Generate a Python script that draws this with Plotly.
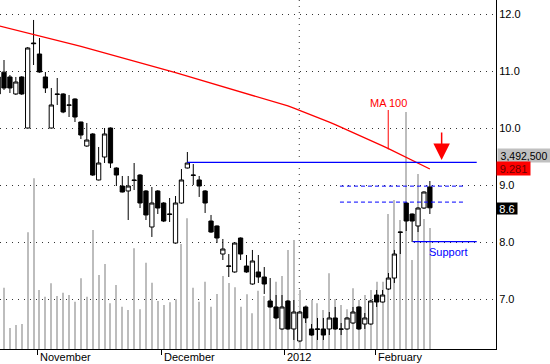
import plotly.graph_objects as go

# ---- data (index = trading day) ----
idx = list(range(74))

opens = [10.895, 10.98, 10.895, 10.597, 10.895, 10.0, 11.491, 11.298, 10.895, 10.0,
         10.597, 10.597, 10.404, 10.509, 10.105, 9.684, 9.895, 9.088, 9.491, 10.0,
         9.298, 8.982, 8.895, 9.088, 9.175, 8.895, 8.263, 8.895, 8.684, 8.491,
         7.982, 8.684, 9.298, 9.175, 9.088, 8.895, 8.368, 8.281, 7.789, 7.579,
         7.474, 8.07, 7.579, 7.263, 7.474, 7.386, 6.965, 6.86, 6.474, 6.965,
         6.474, 6.263, 6.86, 6.474, 6.474, 6.474, 6.474, 6.667, 6.474, 6.474,
         6.579, 6.86, 6.561, 6.561, 7.07, 6.947, 7.175, 7.368, 8.175, 8.684,
         8.491, 8.281, 8.596, 8.965]
closes = [10.597, 10.702, 10.702, 10.807, 10.597, 11.404, 11.48, 10.982, 10.702, 10.404,
          10.59, 10.281, 10.40, 10.193, 9.877, 9.789, 9.175, 9.386, 9.895, 9.386,
          9.175, 8.877, 8.982, 9.08, 8.684, 8.474, 8.684, 8.596, 8.368, 8.485,
          8.684, 9.088, 9.386, 9.17, 8.982, 8.684, 8.175, 8.07, 7.877, 7.575,
          7.982, 7.789, 7.474, 7.667, 7.386, 7.263, 6.86, 6.667, 6.86, 6.474,
          6.772, 6.772, 6.667, 6.368, 6.47, 6.368, 6.667, 6.474, 6.47, 6.667,
          6.772, 6.474, 6.667, 6.965, 6.947, 7.07, 7.368, 7.789, 8.17, 8.368,
          8.368, 8.596, 8.877, 8.6]
highs = [10.982, 11.193, 10.93, 10.895, 10.91, 11.42, 11.895, 11.579, 10.982, 10.702,
         10.877, 10.61, 10.579, 10.52, 10.11, 10.088, 9.91, 9.667, 10.0, 10.01,
         9.31, 9.158, 9.158, 9.386, 9.19, 8.91, 8.965, 8.91, 8.70, 8.772,
         8.807, 9.28, 9.579, 9.368, 9.158, 8.91, 8.474, 8.29, 8.053, 7.789,
         8.0, 8.08, 7.772, 7.86, 7.772, 7.561, 7.368, 7.07, 7.07, 6.98,
         6.982, 6.79, 6.87, 6.561, 6.667, 6.667, 6.772, 6.86, 6.579, 6.68,
         6.86, 6.87, 6.754, 6.98, 7.158, 7.158, 7.456, 7.86, 8.18, 8.70,
         8.5, 8.61, 8.89, 9.07]
lows = [10.561, 10.667, 10.614, 10.579, 10.58, 9.99, 11.105, 10.97, 10.614, 9.99,
        10.404, 10.26, 10.193, 10.105, 9.807, 9.67, 9.16, 9.08, 9.386, 9.298,
        8.982, 8.87, 8.386, 8.912, 8.596, 8.386, 8.088, 8.491, 8.35, 8.351,
        7.97, 8.67, 9.29, 9.0, 8.79, 8.509, 8.16, 7.982, 7.684, 7.386,
        7.46, 7.684, 7.46, 7.25, 7.281, 7.088, 6.85, 6.65, 6.46, 6.46,
        6.281, 6.25, 6.579, 6.355, 6.281, 6.281, 6.368, 6.46, 6.368, 6.46,
        6.565, 6.46, 6.474, 6.55, 6.86, 6.94, 7.16, 7.281, 7.789, 8.193,
        8.0, 8.175, 8.58, 8.491]
volume = [882000, 1103000, 378000, 432000, 450000, 2100000, 3073000, 1062000, 941000, 1183000,
          954000, 1013000, 972000, 851000, 1273000, 941000, 2142000, 1332000, 1530000, 823000,
          1152000, 761000, 702000, 1813000, 715000, 1553000, 1193000, 864000, 792000, 841000,
          895000, 1890000, 2353000, 1103000, 851000, 1211000, 761000, 990000, 1314000, 1188000,
          1111000, 761000, 985000, 643000, 1049000, 954000, 882000, 1211000, 1314000, 1782000,
          1962000, 1062000, 792000, 882000, 823000, 702000, 1363000, 900000, 792000, 715000,
          1093000, 882000, 972000, 1062000, 1211000, 1211000, 2430000, 2682000, 2322000, 4266000,
          1602000, 3150000, 2340000, 2178000]
ma100 = [11.797, 11.772, 11.747, 11.722, 11.696, 11.670, 11.644, 11.618, 11.592, 11.566,
         11.539, 11.512, 11.485, 11.458, 11.431, 11.403, 11.376, 11.348, 11.320, 11.292,
         11.263, 11.235, 11.206, 11.177, 11.148, 11.118, 11.089, 11.059, 11.030, 11.000,
         10.970, 10.940, 10.910, 10.880, 10.850, 10.820, 10.790, 10.760, 10.730, 10.700,
         10.670, 10.640, 10.610, 10.580, 10.550, 10.520, 10.490, 10.458, 10.424, 10.388,
         10.350, 10.311, 10.271, 10.230, 10.188, 10.146, 10.103, 10.060, 10.015, 9.970,
         9.925, 9.878, 9.831, 9.783, 9.736, 9.687, 9.638, 9.589, 9.539, 9.489,
         9.438, 9.387, 9.336, 9.281]

month_pos = [6.63, 27.6, 48.39, 63.77]
month_labels = ["November", "December", "2012", "February"]
price_ticks = [7, 8, 9, 10, 11, 12]
price_ticktext = ["7.0", "8.0", "9.0", "10.0", "11.0", "12.0"]

resistance = 9.398
upper_dash = 8.98
lower_dash = 8.70
support = 8.005
volume_label = "3,492,500"
ma_label = "9.281"
last_label = "8.6"

FONT = "Liberation Sans, Arial, sans-serif"

fig = go.Figure()
fig.add_trace(go.Bar(x=idx, y=volume, yaxis="y", width=0.17,
                     marker=dict(color="#bdbdbd", line=dict(width=0)),
                     showlegend=False, hoverinfo="skip"))
fig.add_trace(go.Candlestick(x=idx, open=opens, high=highs, low=lows, close=closes,
                             yaxis="y2", whiskerwidth=0,
                             increasing=dict(line=dict(color="black", width=1), fillcolor="white"),
                             decreasing=dict(line=dict(color="black", width=1), fillcolor="black"),
                             showlegend=False))
fig.add_trace(go.Scatter(x=idx, y=ma100, yaxis="y2", mode="lines",
                         line=dict(color="#ff0000", width=1.3), showlegend=False))

dot = "1px,5px"
shapes = [
    dict(type="line", xref="x", yref="paper", x0=50.92, x1=50.92, y0=0, y1=1,
         line=dict(color="#333333", width=1, dash=dot), layer="below"),
    dict(type="line", xref="x", yref="y2", x0=32, x1=80.92, y0=resistance, y1=resistance,
         line=dict(color="#0000ff", width=1.2)),
    dict(type="line", xref="x", yref="y2", x0=57.8, x1=78.94, y0=upper_dash, y1=upper_dash,
         line=dict(color="#0000ff", width=1, dash="4px,3px")),
    dict(type="line", xref="x", yref="y2", x0=57.8, x1=78.94, y0=lower_dash, y1=lower_dash,
         line=dict(color="#0000ff", width=1, dash="4px,3px")),
    dict(type="line", xref="x", yref="y2", x0=70.1, x1=80.92, y0=support, y1=support,
         line=dict(color="#0000ff", width=1.2)),
    dict(type="line", xref="x", yref="y2", x0=65.96, x1=65.96, y0=10.316, y1=9.626,
         line=dict(color="#ff0000", width=1)),
]

annotations = []
for pos, lab in zip(month_pos, month_labels):
    annotations.append(dict(x=pos, xref="x", y=0, yref="paper", text=lab, showarrow=False,
                            xanchor="left", yanchor="top", xshift=2, yshift=-1, borderpad=0,
                            font=dict(family=FONT, size=11, color="black")))
annotations += [
    dict(x=65.96, xref="x", y=10.447, yref="y2", text="MA 100", showarrow=False,
         font=dict(family=FONT, size=11, color="#ff0000")),
    dict(x=76.23, xref="x", y=7.825, yref="y2", text="Support", showarrow=False,
         font=dict(family=FONT, size=11, color="#0000ff")),
    dict(x=74.99, xref="x", y=9.44, yref="y2", text="", showarrow=True,
         ax=0, ay=-29, arrowhead=2, arrowsize=2.2, arrowwidth=1.5, arrowcolor="#ff0000"),
    dict(x=1, xref="paper", y=9.521, yref="y2", text=volume_label, showarrow=False,
         xanchor="left", xshift=1, width=50, height=11, align="center", borderpad=1,
         bgcolor="#c0c0c0", font=dict(family=FONT, size=10.5, color="black")),
    dict(x=1, xref="paper", y=float(ma_label), yref="y2", text=ma_label, showarrow=False,
         xanchor="left", xshift=0, width=31, height=11, align="center", borderpad=1,
         bgcolor="#ff0000", font=dict(family=FONT, size=11, color="#6a0000")),
    dict(x=1, xref="paper", y=8.58, yref="y2", text=last_label, showarrow=False,
         xanchor="left", xshift=0, width=18, height=9, align="center", borderpad=1,
         bgcolor="#000000", font=dict(family=FONT, size=11, color="white")),
]

fig.update_layout(
    width=550, height=364,
    margin=dict(l=0, r=54, t=0, b=15, autoexpand=False),
    paper_bgcolor="white", plot_bgcolor="white",
    showlegend=False,
    boxgap=0.15, boxgroupgap=0.15,
    font=dict(family=FONT, size=11, color="black"),
    xaxis=dict(range=[0.3238, 84.18], showgrid=False, zeroline=False,
               showline=True, linecolor="black", linewidth=1,
               ticks="outside", ticklen=5, tickcolor="black", tickwidth=1,
               tickvals=month_pos, showticklabels=False,
               rangeslider=dict(visible=False), fixedrange=True),
    yaxis=dict(range=[0, 6283000], visible=False, fixedrange=True),
    yaxis2=dict(range=[6.1228, 12.2456], overlaying="y", side="right",
                showline=True, linecolor="black", linewidth=1,
                showgrid=True, gridcolor="#333333", gridwidth=1, griddash=dot,
                zeroline=False, ticks="", tickvals=price_ticks, ticktext=price_ticktext,
                tickfont=dict(family=FONT, size=11, color="black"), fixedrange=True),
    shapes=shapes,
    annotations=annotations,
)

fig.write_html("out.html")
